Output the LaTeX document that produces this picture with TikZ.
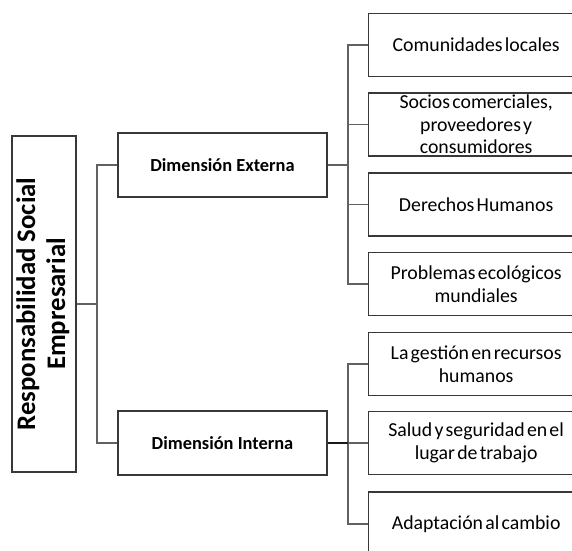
\documentclass[tikz,border=0pt]{standalone}
\usepackage{fontspec}
\setmainfont{Carlito}
\newfontfamily\leaffont{Carlito}[WordSpace=0.5]
\begin{document}
\begin{tikzpicture}[x=1pt,y=-1pt,
  box/.style={draw=black!78, line width=1.3pt, fill=white, inner sep=2pt},
  rootbox/.style={box, minimum width=64pt, minimum height=336pt},
  dimbox/.style={box, minimum width=209pt, minimum height=64pt, font=\fontsize{18.4}{21}\selectfont\bfseries},
  leafbox/.style={box, minimum width=215pt, minimum height=63pt, anchor=west, align=center, font=\leaffont\fontsize{19.8}{22.5}\selectfont},
  conn/.style={draw=black!62, line width=1.8pt},
  connd/.style={draw=black!90, line width=2pt}]
\useasboundingbox (0,0) rectangle (572,550);
\clip (0,0) rectangle (572,550);
\fill[white] (0,0) rectangle (572,550);

\node[rootbox] (root) at (44,304) {\rotatebox{90}{\fontsize{26.8}{30}\selectfont\bfseries\begin{tabular}{@{}c@{}}Responsabilidad Social\\Empresarial\end{tabular}}};

\node[dimbox] (de) at (222.5,165) {Dimensión Externa};
\node[dimbox] (di) at (222.5,443) {Dimensión Interna};

\node[leafbox] (l1) at (368,45) {Comunidades locales};
\node[leafbox] (l2) at (368,124.5) {Socios comerciales,\\proveedores y\\consumidores};
\node[leafbox] (l3) at (368,204.5) {Derechos Humanos};
\node[leafbox] (l4) at (368,284) {Problemas ecológicos\\mundiales};
\node[leafbox] (l5) at (368,364) {La gestión en recursos\\humanos};
\node[leafbox] (l6) at (368,443) {Salud y seguridad en el\\lugar de trabajo};
\node[leafbox, minimum height=64pt] (l7) at (368,524) {Adaptación al cambio};

\coordinate (j0) at (97,304);
\coordinate (j1) at (348,165);
\coordinate (j2) at (348,443);

\draw[conn] (root.east) -- (j0);
\draw[conn] (de.west) -| (j0) |- (di.west);

\draw[conn] (de.east) -- (j1);
\draw[conn] (l1.west) -| (j1) |- (l4.west);
\draw[conn] (l2.west) -- (l2.west -| j1);
\draw[conn] (l3.west) -- (l3.west -| j1);

\draw[conn] (l5.west) -| (j2) |- (l7.west);
\draw[connd] (di.east) -- (j2);
\draw[conn] (l6.west) -- (j2);
\end{tikzpicture}
\end{document}
